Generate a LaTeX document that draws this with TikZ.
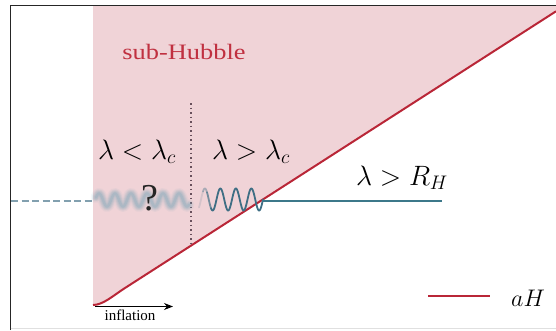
\RequirePackage{fix-cm}
\documentclass[tikz,border=0pt]{standalone}
\usepackage{fontspec}
\setmainfont{Liberation Serif}
\usetikzlibrary{arrows.meta}
\definecolor{pinkfill}{RGB}{240,211,215}
\definecolor{hubred}{RGB}{185,38,55}
\definecolor{subred}{RGB}{192,48,64}
\definecolor{wavecol}{RGB}{62,110,132}
\definecolor{linecol}{RGB}{60,120,138}
\definecolor{blurcol}{RGB}{110,160,182}
\definecolor{dashcol}{RGB}{130,160,175}
\definecolor{dotcol}{RGB}{105,80,92}
\tikzset{
  redline/.style={draw=hubred,line width=2pt},
  wavestyle/.style={draw=wavecol,line width=1.8pt,line cap=round},
  blurwave/.style={draw=blurcol,line cap=round,line join=round},
  mathlabel/.style={inner sep=0pt,font=\fontsize{28}{30}\selectfont},
}
\begin{document}
\begin{tikzpicture}[x=1pt,y=-1pt]
\useasboundingbox (0,0) rectangle (556,330);
% sub-Hubble region
\fill[pinkfill] (93,6) -- (556,6) -- (556,11.3) -- (125,288) .. controls (113,295.7) and (103,305) .. (93,305) -- cycle;
% frame
\draw[black!85,line width=1pt] (10.5,330) -- (10.5,5.5) -- (556,5.5);
\draw[black!12,line width=0.8pt] (10.5,328.5) -- (556,328.5);
% aH line
\coordinate (rs) at (93,305);
\coordinate (rk) at (125,288);
\coordinate (re) at (556,11.3);
\draw[redline] (rs) .. controls (103,305) and (113,295.7) .. (rk) -- (re);
% dotted separator
\coordinate (dtop) at (191,103);
\coordinate (dbot) at (191,246);
\draw[dotcol,line width=1.3pt,dash pattern=on 1.5pt off 3pt] (dtop) -- (dbot);
% dashed left line
\coordinate (dl) at (11,201);
\coordinate (dr) at (93,201);
\draw[dashcol,line width=1.6pt,dash pattern=on 7pt off 3.5pt] (dl) -- (dr);
% blurry wave
\foreach \w/\o in {11/0.07,8.5/0.1,6.5/0.13,4.5/0.16,2.5/0.2}{
  \draw[blurwave,line width=\w pt,opacity=\o] plot[domain=96:189,samples=120,smooth] (\x,{200-6.5*sin(22.5*(\x-95))});
}
% sharp wave fading in
\draw[wavestyle,opacity=0.15] plot[domain=199:203,samples=10,smooth] (\x,{199.5-11*sin(23.2258*(\x-201))});
\draw[wavestyle,opacity=0.4] plot[domain=203:207,samples=10,smooth] (\x,{199.5-11*sin(23.2258*(\x-201))});
\draw[wavestyle,opacity=0.7] plot[domain=207:211,samples=10,smooth] (\x,{199.5-11*sin(23.2258*(\x-201))});
\draw[wavestyle] plot[domain=211:263,samples=100,smooth] (\x,{199.5-11*sin(23.2258*(\x-201))});
% super-Hubble flat line
\coordinate (fl) at (262,200.5);
\coordinate (fr) at (442,200.5);
\draw[linecol,line width=2pt] (fl) -- (fr);
% labels
\node[text=subred,font=\fontsize{22}{24}\selectfont,xscale=1.2,transform shape] (sub) at (184,52) {sub-Hubble};
\node[mathlabel] (l1) at (137,152) {$\lambda<\lambda_c$};
\node[mathlabel] (l2) at (251,152) {$\lambda>\lambda_c$};
\node[mathlabel] (l3) at (402,178) {$\lambda>R_H$};
\node[inner sep=0pt,font=\fontsize{38}{40}\selectfont,text=black!85] (q) at (150,198) {?};
% inflation arrow
\coordinate (ia) at (95,306.5);
\coordinate (ib) at (173,306.5);
\draw[black,line width=1pt,-{Stealth[length=9pt,width=7pt]}] (ia) -- (ib);
\node[inner sep=0pt,font=\fontsize{15}{16}\selectfont] (infl) at (130,315) {inflation};
% legend
\coordinate (la) at (428,296);
\coordinate (lb) at (490,296);
\draw[redline] (la) -- (lb);
\node[inner sep=0pt,font=\fontsize{24}{26}\selectfont] (aH) at (528,298) {$aH$};
\end{tikzpicture}
\end{document}
